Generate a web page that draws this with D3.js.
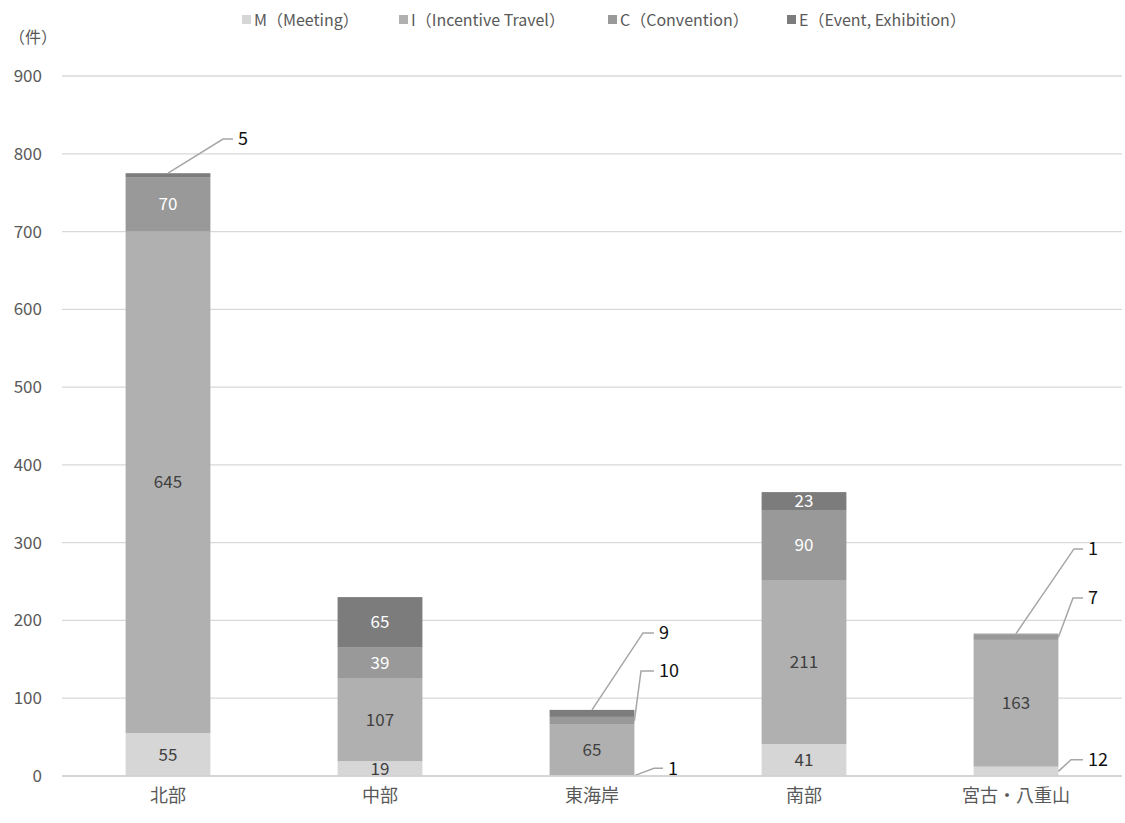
<!DOCTYPE html>
<html><head><meta charset="utf-8">
<script src="https://cdn.jsdelivr.net/npm/d3@7"></script>
<style>
body{margin:0;background:#fff;}
svg{display:block;font-family:"Noto Sans CJK JP","Noto Sans",sans-serif;}
</style></head>
<body><svg id="c" width="1125" height="823"></svg>
<script>
const categories = ["北部","中部","東海岸","南部","宮古・八重山"];
const seriesNames = ["M（Meeting）","I（Incentive Travel）","C（Convention）","E（Event, Exhibition）"];
const seriesM = [55,19,1,41,12];
const seriesI = [645,107,65,211,163];
const seriesC = [70,39,10,90,7];
const seriesE = [5,65,9,23,1];
const yTicks = [0,100,200,300,400,500,600,700,800,900];
const unitLabel = "（件）";
// segments labelled with a leader line instead of inside the bar
const leaders = [
  {cat:"北部", s:3, anchor:"top", bendDx:55, endDx:65, labelY:819},
  {cat:"東海岸", s:3, anchor:"top", bendDx:51, endDx:62, labelY:184},
  {cat:"東海岸", s:2, anchor:"side", bendDx:49, endDx:62, labelY:135},
  {cat:"東海岸", s:0, anchor:"side", bendDx:62, endDx:71, labelY:10},
  {cat:"宮古・八重山", s:3, anchor:"top", bendDx:58, endDx:67, labelY:292},
  {cat:"宮古・八重山", s:2, anchor:"side", bendDx:57, endDx:67, labelY:229},
  {cat:"宮古・八重山", s:0, anchor:"side", bendDx:55, endDx:67, labelY:21}
];

const colors = ["#d6d6d6","#b0b0b0","#999999","#7c7c7c"];
const labelColors = ["#404040","#404040","#ffffff","#ffffff"];
const seriesVals = [seriesM, seriesI, seriesC, seriesE];
const FONT = "'Noto Sans CJK JP','Noto Sans',sans-serif";

const svg = d3.select("#c");
const x = d3.scaleBand().domain(categories).range([62,1122]).paddingInner(0.6).paddingOuter(0.3);
const y = d3.scaleLinear().domain([0,900]).range([776,76]);

// gridlines
svg.append("g").selectAll("line").data(yTicks).join("line")
  .attr("x1",62).attr("x2",1122)
  .attr("y1",d=>y(d)).attr("y2",d=>y(d))
  .attr("stroke","#d9d9d9").attr("stroke-width",1.3);

// y axis labels
const yAxis = svg.append("g").attr("transform","translate(48,0)")
  .call(d3.axisLeft(y).tickValues(yTicks).tickSize(0).tickPadding(6));
yAxis.select(".domain").remove();
yAxis.selectAll("text").attr("font-size",17).attr("fill","#595959").attr("font-family",FONT);

svg.append("text").attr("x",9).attr("y",43).attr("font-size",16).attr("fill","#595959").text(unitLabel);

// stack
const rows = categories.map((c,i)=>({cat:c, s0:seriesM[i], s1:seriesI[i], s2:seriesC[i], s3:seriesE[i]}));
const stack = d3.stack().keys(["s0","s1","s2","s3"])(rows);

const isLeader = (cat,s)=>leaders.some(l=>l.cat===cat && l.s===s);

stack.forEach((layer,si)=>{
  const g = svg.append("g");
  g.selectAll("rect").data(layer).join("rect")
    .attr("x",d=>x(d.data.cat)).attr("width",x.bandwidth())
    .attr("y",d=>y(d[1])).attr("height",d=>y(d[0])-y(d[1]))
    .attr("fill",colors[si]);
  g.selectAll("text").data(layer.filter(d=>!isLeader(d.data.cat,si))).join("text")
    .attr("x",d=>x(d.data.cat)+x.bandwidth()/2)
    .attr("y",d=>y((d[0]+d[1])/2))
    .attr("dy","0.35em").attr("text-anchor","middle")
    .attr("font-size",17).attr("fill",labelColors[si])
    .text(d=>d.data["s"+si]);
});

// leaders
const lg = svg.append("g");
leaders.forEach(l=>{
  const ci = categories.indexOf(l.cat);
  const seg = stack[l.s][ci];
  const cx = x(l.cat)+x.bandwidth()/2;
  let sx, sy;
  if(l.anchor==="top"){ sx = cx; sy = y(seg[1]); }
  else { sx = x(l.cat)+x.bandwidth(); sy = y((seg[0]+seg[1])/2); }
  const ly = y(l.labelY);
  lg.append("polyline")
    .attr("points",[[sx,sy],[cx+l.bendDx,ly],[cx+l.endDx,ly]].map(p=>p.join(",")).join(" "))
    .attr("fill","none").attr("stroke","#a6a6a6").attr("stroke-width",1.5);
  lg.append("text").attr("x",cx+l.endDx+5).attr("y",ly).attr("dy","0.35em")
    .attr("font-size",18).attr("fill","#111").text(seriesVals[l.s][ci]);
});

// category labels
const xAxis = svg.append("g").attr("transform","translate(0,776)")
  .call(d3.axisBottom(x).tickSize(0).tickPadding(13));
xAxis.select(".domain").attr("stroke","#d0d0d0").attr("stroke-width",1.3).attr("d","M62,0H1122");
xAxis.selectAll("text").attr("font-size",18).attr("fill","#595959").attr("font-family",FONT);

// legend
const legX = [242,399,608,787];
const leg = svg.append("g");
seriesNames.forEach((n,i)=>{
  leg.append("rect").attr("x",legX[i]).attr("y",15).attr("width",9).attr("height",9).attr("fill",colors[i]);
  leg.append("text").attr("x",legX[i]+12).attr("y",20).attr("dy","0.35em")
    .attr("font-size",16).attr("fill","#595959").text(n);
});
</script></body></html>
